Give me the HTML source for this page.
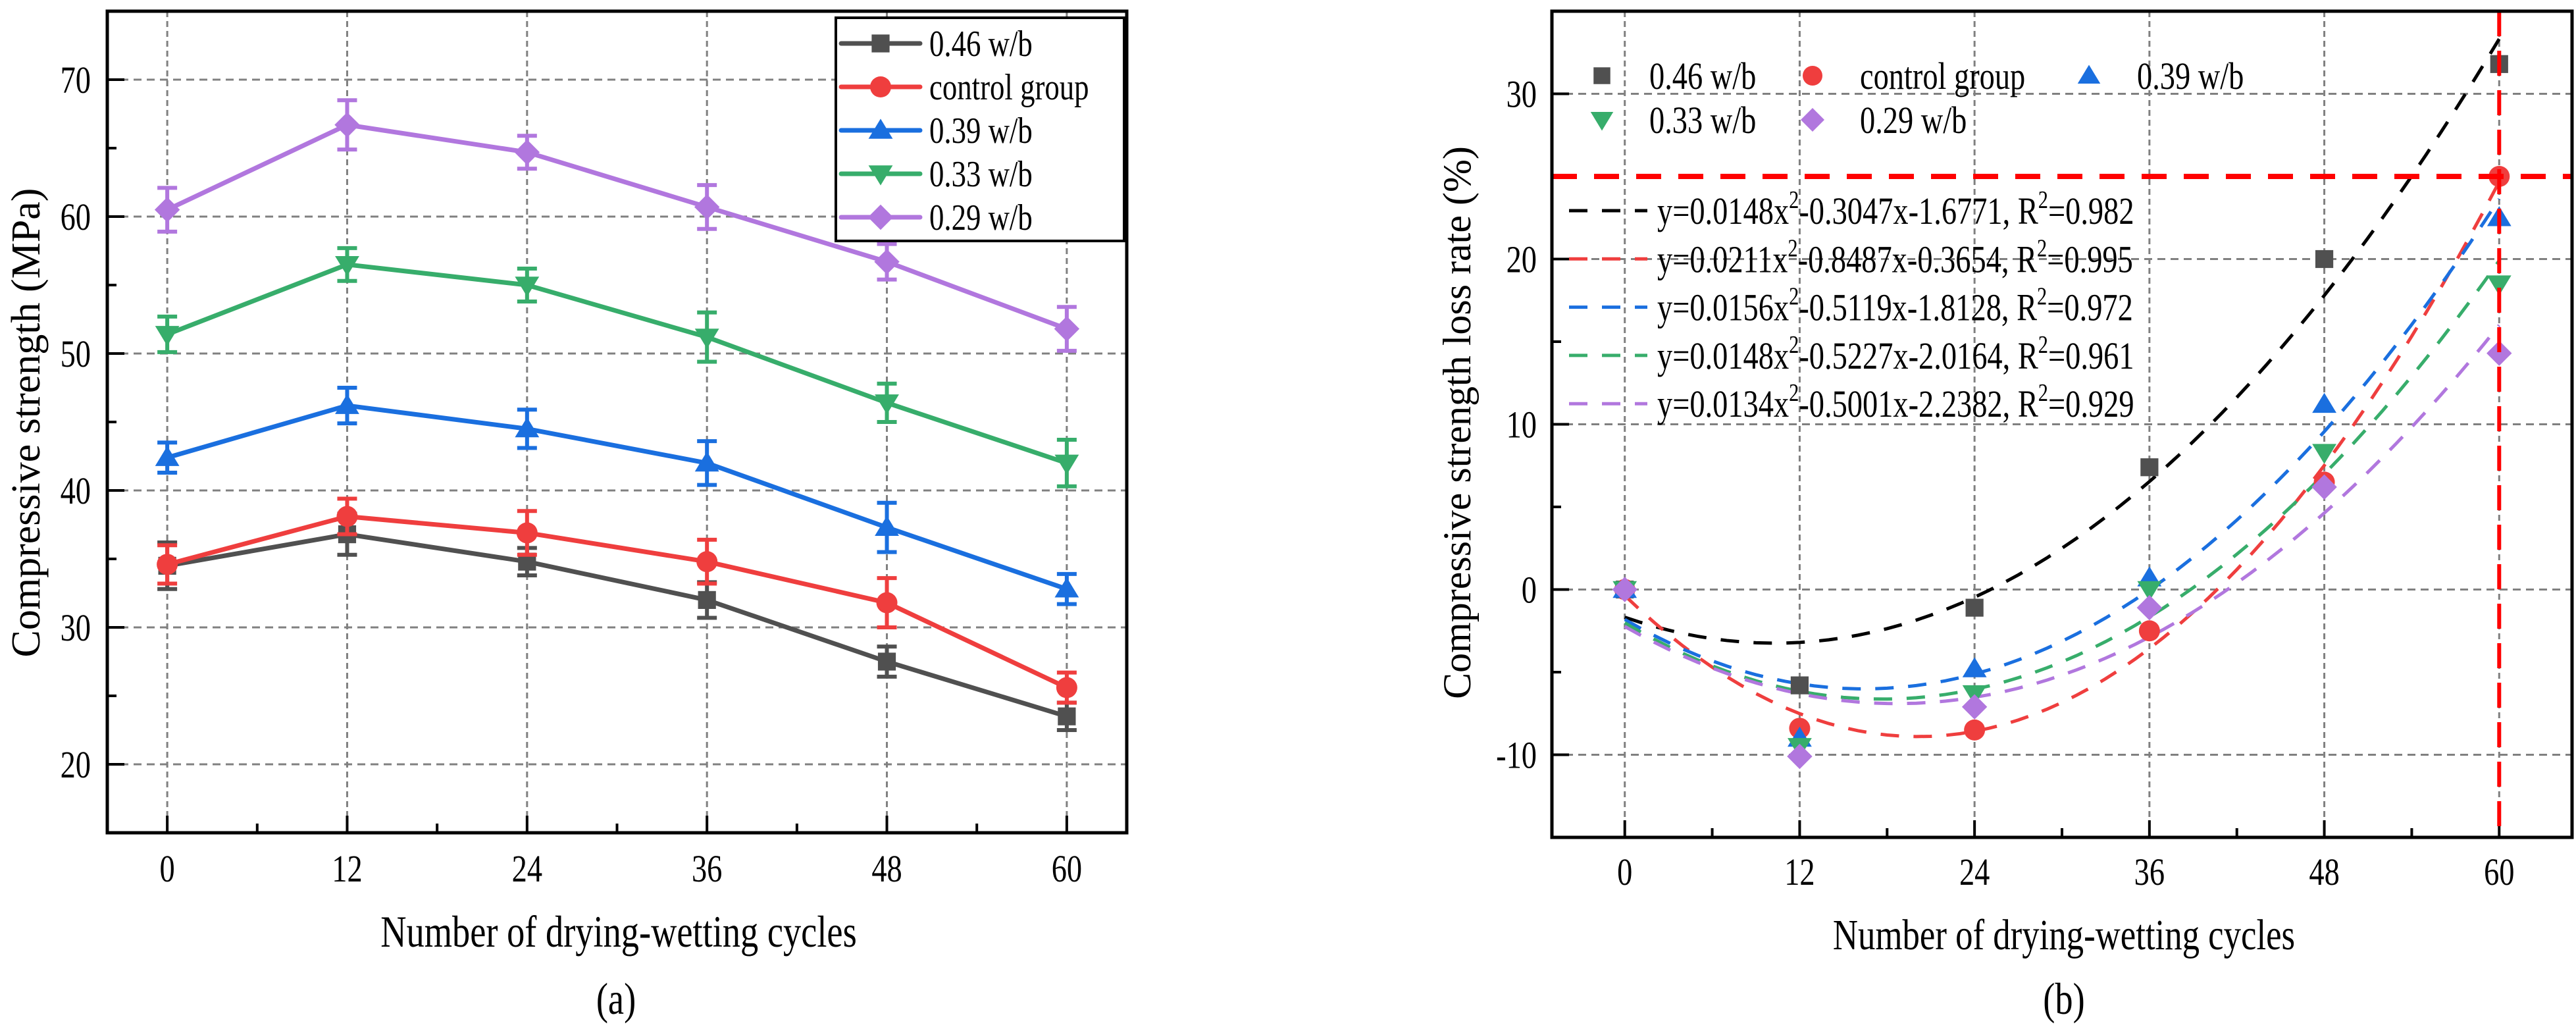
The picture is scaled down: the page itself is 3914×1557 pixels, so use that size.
<!DOCTYPE html>
<html><head><meta charset="utf-8"><style>
html,body{margin:0;padding:0;background:#fff;}
svg{display:block;}
text{font-family:"Liberation Serif","Times New Roman","DejaVu Serif",serif;}
</style></head><body>
<svg id="chart" width="3914" height="1557" viewBox="0 0 3914 1557" xmlns="http://www.w3.org/2000/svg"></svg>
<script>
// ---- data ----
const cycles = [0, 12, 24, 36, 48, 60];
const seriesNames = ["0.46 w/b", "control group", "0.39 w/b", "0.33 w/b", "0.29 w/b"];
const colors = ["#505050", "#EF3E3E", "#1A6FDF", "#37AD6B", "#B177DE"];
const markers = ["square", "circle", "up", "down", "diamond"];
// Panel (a) compressive strength (MPa)
const strength046 = [34.5, 36.8, 34.8, 32.0, 27.5, 23.5];
const strengthCtrl = [34.6, 38.1, 36.9, 34.8, 31.8, 25.6];
const strength039 = [42.4, 46.2, 44.5, 42.0, 37.3, 32.8];
const strength033 = [51.4, 56.5, 55.0, 51.2, 46.4, 42.0];
const strength029 = [60.5, 66.7, 64.7, 60.7, 56.7, 51.8];
const err046 = [1.7, 1.5, 1.0, 1.3, 1.1, 1.0];
const errCtrl = [1.4, 1.3, 1.6, 1.6, 1.8, 1.1];
const err039 = [1.1, 1.3, 1.4, 1.6, 1.8, 1.1];
const err033 = [1.3, 1.2, 1.2, 1.8, 1.4, 1.7];
const err029 = [1.6, 1.8, 1.2, 1.6, 1.3, 1.6];
// Panel (b) loss rate (%)
const loss046 = [0, -5.8, -1.1, 7.4, 20.0, 31.8];
const lossCtrl = [0, -8.4, -8.5, -2.5, 6.5, 25.0];
const loss039 = [0, -9.0, -4.8, 0.7, 11.2, 22.5];
const loss033 = [0, -9.5, -6.3, 0.0, 8.3, 18.5];
const loss029 = [0, -10.1, -7.1, -1.1, 6.2, 14.3];
const fitA = [0.0148, 0.0211, 0.0156, 0.0148, 0.0134];
const fitB = [-0.3047, -0.8487, -0.5119, -0.5227, -0.5001];
const fitC = [-1.6771, -0.3654, -1.8128, -2.0164, -2.2382];
const fitR2 = ["0.982", "0.995", "0.972", "0.961", "0.929"];
const yTicksA = [20, 30, 40, 50, 60, 70];
const yTicksB = [-10, 0, 10, 20, 30];
const thresholdLoss = 25;

const NS = "http://www.w3.org/2000/svg";
const svg = document.getElementById("chart");
const SX = 0.8; // horizontal squeeze of the reference typography
function el(tag, attrs, parent) {
  const e = document.createElementNS(NS, tag);
  for (const k in attrs) e.setAttribute(k, attrs[k]);
  (parent || svg).appendChild(e);
  return e;
}
function txt(s, x, y, size, anchor, parent, rotate) {
  const t = el("text", {x: 0, y: 0, "font-size": size, "text-anchor": anchor || "start",
    transform: rotate ? `translate(${x},${y}) rotate(-90)` : `translate(${x},${y}) scale(${SX},1)`, fill: "#000"}, parent);
  t.textContent = s;
  return t;
}

function marker(g, type, cx, cy, r, color) {
  let m;
  if (type === "square") m = el("rect", {x: cx - r*0.85, y: cy - r*0.85, width: r*1.7, height: r*1.7, fill: color}, g);
  else if (type === "circle") m = el("circle", {cx, cy, r: r, fill: color}, g);
  else if (type === "up") m = el("polygon", {points: `${cx},${cy-r*1.1} ${cx-r*1.15},${cy+r*0.8} ${cx+r*1.15},${cy+r*0.8}`, fill: color}, g);
  else if (type === "down") m = el("polygon", {points: `${cx},${cy+r*1.1} ${cx-r*1.15},${cy-r*0.8} ${cx+r*1.15},${cy-r*0.8}`, fill: color}, g);
  else m = el("polygon", {points: `${cx},${cy-r*1.2} ${cx+r*1.2},${cy} ${cx},${cy+r*1.2} ${cx-r*1.2},${cy}`, fill: color}, g);
  return m;
}

function frame(g, L, R, T, B, sx, sy, yTicks, yMinor, xMinor) {
  cycles.forEach(c => el("line", {x1: sx(c), x2: sx(c), y1: T, y2: B, stroke: "#808080", "stroke-width": 3, "stroke-dasharray": "9 6"}, g));
  yTicks.forEach(v => el("line", {x1: L, x2: R, y1: sy(v), y2: sy(v), stroke: "#808080", "stroke-width": 3, "stroke-dasharray": "12 8"}, g));
  yTicks.forEach(v => el("line", {x1: L, x2: L + 26, y1: sy(v), y2: sy(v), stroke: "#000", "stroke-width": 4}, g));
  yMinor.forEach(v => el("line", {x1: L, x2: L + 14, y1: sy(v), y2: sy(v), stroke: "#000", "stroke-width": 4}, g));
  cycles.forEach(c => el("line", {x1: sx(c), x2: sx(c), y1: B, y2: B - 26, stroke: "#000", "stroke-width": 4}, g));
  xMinor.forEach(c => el("line", {x1: sx(c), x2: sx(c), y1: B, y2: B - 14, stroke: "#000", "stroke-width": 4}, g));
}

// ================= Panel (a) =================
(function () {
  const L = 163, R = 1712, T = 17, B = 1265;
  const sx = v => L + (v + 4) / 68 * (R - L);
  const sy = v => B - (v - 15) / 60 * (B - T);
  const g = el("g", {});
  
  
  frame(g, L, R, T, B, sx, sy, yTicksA, [25, 35, 45, 55, 65, 75], [6, 18, 30, 42, 54]);
  const vals = [strength046, strengthCtrl, strength039, strength033, strength029];
  const errs = [err046, errCtrl, err039, err033, err029];
  vals.forEach((arr, i) => {
    const sg = el("g", {}, g);
    
    
    el("polyline", {points: arr.map((v, j) => sx(cycles[j]) + "," + sy(v)).join(" "), fill: "none", stroke: colors[i], "stroke-width": 7, "stroke-linejoin": "round"}, sg);
    arr.forEach((v, j) => {
      const x = sx(cycles[j]), e = errs[i][j];
      el("line", {x1: x, x2: x, y1: sy(v + e), y2: sy(v - e), stroke: colors[i], "stroke-width": 6}, sg);
      el("line", {x1: x - 15, x2: x + 15, y1: sy(v + e), y2: sy(v + e), stroke: colors[i], "stroke-width": 6}, sg);
      el("line", {x1: x - 15, x2: x + 15, y1: sy(v - e), y2: sy(v - e), stroke: colors[i], "stroke-width": 6}, sg);
      const m = marker(sg, markers[i], x, sy(v), 16, colors[i]);
      
      
    });
  });
  el("rect", {x: L, y: T, width: R - L, height: B - T, fill: "none", stroke: "#000", "stroke-width": 5}, g);
  const lg = el("g", {}, g);
  
  
  el("rect", {x: 1270, y: 27, width: 438, height: 339, fill: "#fff", stroke: "#000", "stroke-width": 4}, lg);
  seriesNames.forEach((n, i) => {
    const y = 66 + i * 66;
    el("line", {x1: 1278, x2: 1398, y1: y, y2: y, stroke: colors[i], "stroke-width": 7, "stroke-linecap": "round"}, lg);
    marker(lg, markers[i], 1338, y, 16, colors[i]);
    const t = txt(n, 1412, y + 19, 56, "start", lg);
    
    
  });
  yTicksA.forEach(v => {
    const t = txt(String(v), 138, sy(v) + 20, 58, "end", g);
    
    
  });
  cycles.forEach(c => {
    const t = txt(String(c), sx(c), 1339, 58, "middle", g);
    
    
  });
  const yt = txt("Compressive strength (MPa)", 60, 642, 62, "middle", g, true);
  
  
  const xt = txt("Number of drying-wetting cycles", 940, 1438, 68, "middle", g);
  
  
  const cap = txt("(a)", 936, 1540, 68, "middle", g);
  
  
})();

// ================= Panel (b) =================
(function () {
  const L = 2358, R = 3908, T = 17, B = 1272;
  const sx = v => L + (v + 5) / 70 * (R - L);
  const sy = v => B - (v + 15) / 50 * (B - T);
  const g = el("g", {});
  
  
  frame(g, L, R, T, B, sx, sy, yTicksB, [-15, -5, 5, 15, 25, 35], [6, 18, 30, 42, 54]);
  fitA.forEach((a, i) => {
    const pts = [];
    for (let k = 0; k <= 60; k++) { const x = cycles[0] + k * (cycles[5] - cycles[0]) / 60; pts.push(sx(x) + "," + sy(a * x * x + fitB[i] * x + fitC[i])); }
    const p = el("polyline", {points: pts.join(" "), fill: "none", stroke: i === 0 ? "#000" : colors[i], "stroke-width": 5, "stroke-dasharray": "28 22"}, g);
    
    
  });
  const vals = [loss046, lossCtrl, loss039, loss033, loss029];
  vals.forEach((arr, i) => {
    const sg = el("g", {}, g);
    
    
    arr.forEach((v, j) => {
      const m = marker(sg, markers[i], sx(cycles[j]), sy(v), 16, colors[i]);
      
      
    });
  });
  const h = el("line", {x1: L, x2: R, y1: sy(thresholdLoss), y2: sy(thresholdLoss), stroke: "#FF0000", "stroke-width": 8, "stroke-dasharray": "38 26"}, g);
  
  
  const v = el("line", {x1: sx(60), x2: sx(60), y1: T, y2: B, stroke: "#FF0000", "stroke-width": 6, "stroke-dasharray": "38 22"}, g);
  
  
  el("rect", {x: L, y: T, width: R - L, height: B - T, fill: "none", stroke: "#000", "stroke-width": 5}, g);
  const lg = el("g", {}, g);
  
  
  const mx = [2434, 2754, 3174], tx = [2506, 2826, 3247];
  seriesNames.forEach((n, i) => {
    const col = i % 3, row = Math.floor(i / 3), y = 115 + row * 67;
    marker(lg, markers[i], mx[col], y, 15, colors[i]);
    const t = txt(n, tx[col], y + 20, 58, "start", lg);
    
    
  });
  fitA.forEach((a, i) => {
    const y = 320 + i * 73.3;
    el("line", {x1: 2384, x2: 2503, y1: y, y2: y, stroke: i === 0 ? "#000" : colors[i], "stroke-width": 5, "stroke-dasharray": "28 22"}, lg);
    const t = el("text", {x: 0, y: 0, "font-size": 58, transform: `translate(2518,${y + 20}) scale(${SX},1)`}, lg);
    
    
    const b = fitB[i].toFixed(4), c = fitC[i].toFixed(4);
    t.innerHTML = `y=${a.toFixed(4)}x<tspan dy="-24" font-size="38">2</tspan><tspan dy="24">${b}x${c}, R</tspan><tspan dy="-24" font-size="38">2</tspan><tspan dy="24">=${fitR2[i]}</tspan>`;
  });
  yTicksB.forEach(val => {
    const t = txt(String(val), 2335, sy(val) + 20, 58, "end", g);
    
    
  });
  cycles.forEach(c => {
    const t = txt(String(c), sx(c), 1344, 58, "middle", g);
    
    
  });
  const yt = txt("Compressive strength loss rate (%)", 2234, 642, 60, "middle", g, true);
  
  
  const xt = txt("Number of drying-wetting cycles", 3136, 1442, 66, "middle", g);
  
  
  const cap = txt("(b)", 3136, 1540, 68, "middle", g);
  
  
})();
</script>
</body></html>
